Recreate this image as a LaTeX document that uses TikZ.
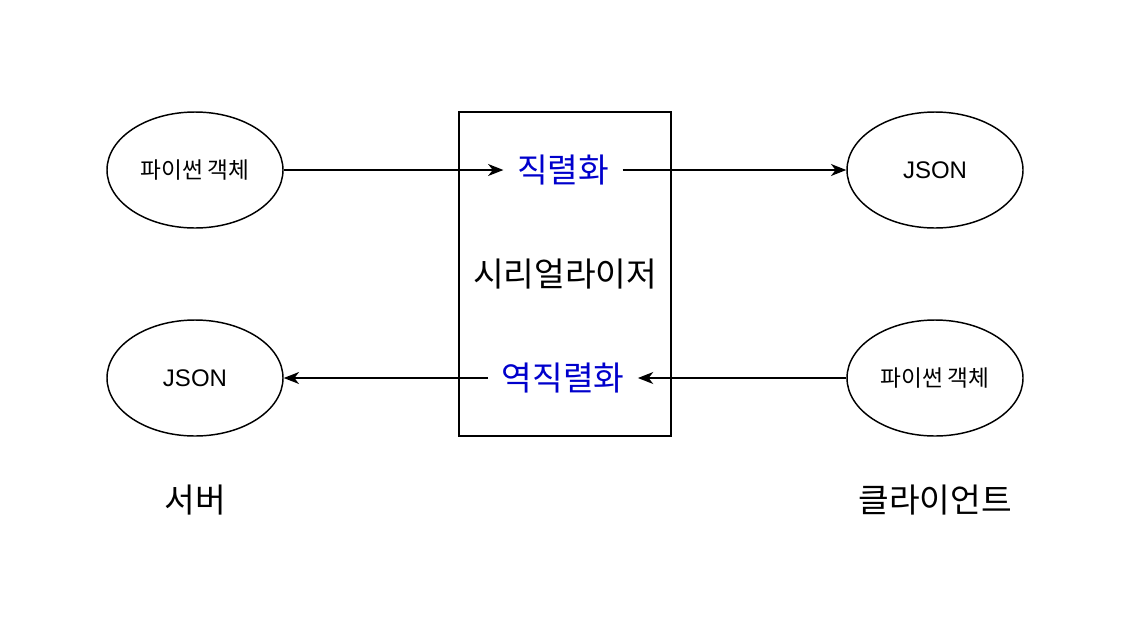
\documentclass[tikz,border=0pt]{standalone}
\usepackage{fontspec}
\setmainfont{Noto Sans CJK KR}
\newfontfamily\latinfont{Liberation Sans}
\usepackage{tikz}
\usetikzlibrary{arrows.meta, shapes.geometric}
\definecolor{serialblue}{RGB}{0,0,204}

\begin{document}
\begin{tikzpicture}
        [x=0.75pt, y=-0.75pt,
        nstyle/.style={ellipse, draw, line width=1.1pt, inner sep=0em, minimum width=132pt, minimum height=87pt, font=\fontsize{17}{20}\selectfont},
        bstyle/.style={rectangle, draw, line width=1.1pt, minimum width=159pt, minimum height=243pt, font=\fontsize{25}{30}\selectfont},
        vstyle/.style={fill=white, inner xsep=10pt, inner ysep=4pt, text=serialblue, font=\fontsize{25}{30}\selectfont},
        lstyle/.style={font=\fontsize{25}{30}\selectfont},
        dstyle/.style={-{Stealth[length=11.5pt, width=9pt, inset=3.5pt]}, line width=1.1pt}]
        \useasboundingbox (0,0) rectangle (1138,636);

        \node[bstyle] (serializer) at (565,274) {시리얼라이저};
        \node[vstyle] (serialize)   at (563,170) {직렬화};
        \node[vstyle] (deserialize) at (563,378) {역직렬화};

        \node[nstyle] (serverobj)  at (195,170) {파이썬 객체};
        \node[nstyle] (clientjson) at (935,170) {\latinfont\fontsize{18}{20}\selectfont JSON};
        \node[nstyle] (serverjson) at (195,378) {\latinfont\fontsize{18}{20}\selectfont JSON};
        \node[nstyle] (clientobj)  at (935,378) {파이썬 객체};

        \node[lstyle] (server) at (195,500) {서버};
        \node[lstyle] (client) at (935,500) {클라이언트};

        \draw[dstyle] (serverobj) -- (serialize);
        \draw[dstyle] (serialize) -- (clientjson);
        \draw[dstyle] (clientobj) -- (deserialize);
        \draw[dstyle] (deserialize) -- (serverjson);
    \end{tikzpicture}
\end{document}
